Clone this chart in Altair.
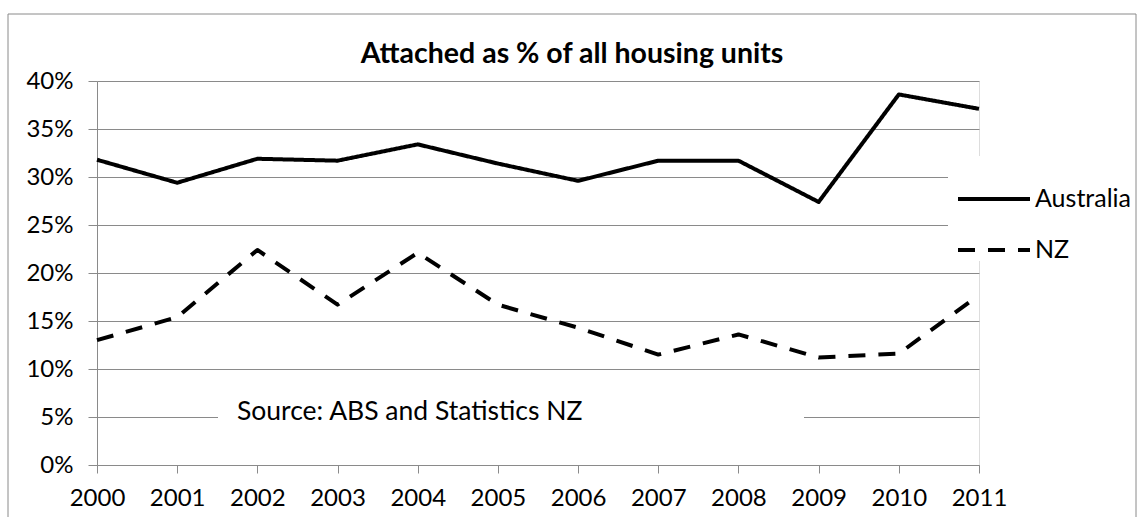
import altair as alt
import pandas as pd

years = [2000, 2001, 2002, 2003, 2004, 2005, 2006, 2007, 2008, 2009, 2010, 2011]
australia = [31.8, 29.4, 31.9, 31.7, 33.4, 31.4, 29.6, 31.7, 31.7, 27.4, 38.6, 37.1]
nz = [13.0, 15.4, 22.4, 16.7, 22.1, 16.7, 14.3, 11.5, 13.6, 11.2, 11.6, 17.7]
series_names = ["Australia", "NZ"]
y_ticks = [0, 5, 10, 15, 20, 25, 30, 35, 40]
title_text = "Attached as % of all housing units"
source_text = "Source: ABS and Statistics NZ"

FONT = "Lato"
GRID = "#8a8a8a"

rows = []
for name, vals in zip(series_names, [australia, nz]):
    for yr, v in zip(years, vals):
        rows.append({"year": yr, "value": v, "series": name})
df = pd.DataFrame(rows)
one = pd.DataFrame({"k": [0]})

W, H = 882, 384

border = alt.Chart(one).mark_rect(fillOpacity=0, stroke=GRID, strokeWidth=1).encode(
    x=alt.value(-89), x2=alt.value(1039), y=alt.value(-67), y2=alt.value(460)
)
legend_box = alt.Chart(one).mark_rect(fill="white").encode(
    x=alt.value(851), x2=alt.value(1030), y=alt.value(75), y2=alt.value(180)
)
source_box = alt.Chart(one).mark_rect(fill="white").encode(
    x=alt.value(121), x2=alt.value(707), y=alt.value(312), y2=alt.value(352)
)

lines = alt.Chart(df).mark_line(color="black", strokeWidth=4, strokeJoin="round").encode(
    x=alt.X("year:Q",
            scale=alt.Scale(domain=[2000, 2011], nice=False, zero=False),
            axis=alt.Axis(values=years, format="d", title=None, grid=False,
                          tickSize=8, labelPadding=13, labelFlush=False,
                          labelFont=FONT, labelFontSize=24, labelColor="black",
                          domainColor=GRID, tickColor=GRID)),
    y=alt.Y("value:Q",
            scale=alt.Scale(domain=[0, 40], nice=False),
            axis=alt.Axis(values=y_ticks, labelExpr="datum.value + '%'", title=None,
                          grid=True, gridColor=GRID, gridOpacity=1, gridWidth=1,
                          tickSize=9, labelPadding=15,
                          labelFont=FONT, labelFontSize=24, labelColor="black",
                          domainColor=GRID, tickColor=GRID)),
    strokeDash=alt.StrokeDash("series:N",
                              scale=alt.Scale(domain=series_names, range=[[1, 0], [17, 13]]),
                              legend=alt.Legend(title=None, orient="none", legendX=859, legendY=80,
                                                symbolType="stroke", symbolSize=5184,
                                                symbolStrokeWidth=4, symbolStrokeColor="black",
                                                labelFont=FONT, labelFontSize=25, labelColor="black",
                                                labelOffset=3, rowPadding=-41, padding=0)),
    detail="series:N",
)

source = alt.Chart(one).mark_text(align="left", baseline="middle", font=FONT, fontSize=26.5,
                                  color="black").encode(
    x=alt.value(140), y=alt.value(331), text=alt.value(source_text)
)

chart = alt.layer(border, legend_box, source_box, lines, source).properties(
    width=W, height=H,
    title=alt.TitleParams(title_text, font=FONT, fontSize=28.5, fontWeight="bold",
                          anchor="middle", dx=34, dy=61, offset=6, color="black"),
    autosize=alt.AutoSizeParams(type="none"),
    padding={"left": 97, "top": 81, "right": 159, "bottom": 52},
).configure_view(stroke=None).configure(background="white")

chart.save("out.html", embed_options={"renderer": "svg", "actions": False})
